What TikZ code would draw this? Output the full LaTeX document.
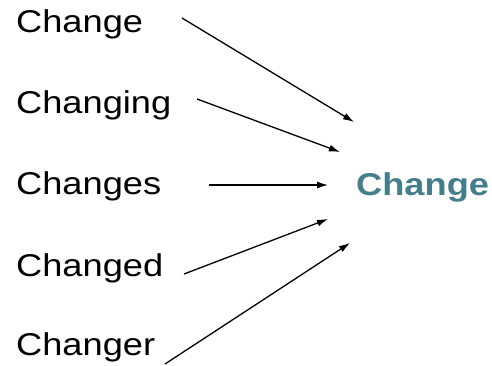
\documentclass[tikz,border=0pt]{standalone}
\usepackage{fontspec}
\setmainfont{Liberation Sans}
\usetikzlibrary{arrows.meta}
\definecolor{teal1}{RGB}{68,126,141}
\tikzset{
  word/.style={anchor=base west, inner sep=0pt, font=\fontsize{31.5}{31.5}\selectfont},
  arr/.style={line width=1.3pt, -{Latex[length=11pt,width=7pt]}}
}
\newcommand{\widetxt}[1]{\scalebox{1.15}[1]{#1}}
\begin{document}
\begin{tikzpicture}[x=1pt,y=-1pt]
\useasboundingbox[fill=white] (0,0) rectangle (492,365);
\node[word] (w1) at (16,32) {\widetxt{Change}};
\node[word] (w2) at (16,113) {\widetxt{Changing}};
\node[word] (w3) at (16,194) {\widetxt{Changes}};
\node[word] (w4) at (16,276) {\widetxt{Changed}};
\node[word] (w5) at (16,355) {\widetxt{Changer}};
\node[word, text=teal1, font=\fontsize{31.5}{31.5}\selectfont\bfseries] (t) at (356,195) {\widetxt{Change}};
\coordinate (s1) at (182,18);  \coordinate (e1) at (354,122);
\coordinate (s2) at (197,99);  \coordinate (e2) at (340,152);
\coordinate (s3) at (209,185); \coordinate (e3) at (328,185);
\coordinate (s4) at (184,274); \coordinate (e4) at (328,219);
\coordinate (s5) at (165,364); \coordinate (e5) at (350,243);
\draw[arr] (s1) -- (e1);
\draw[arr] (s2) -- (e2);
\draw[arr] (s3) -- (e3);
\draw[arr] (s4) -- (e4);
\draw[arr] (s5) -- (e5);
\end{tikzpicture}
\end{document}
